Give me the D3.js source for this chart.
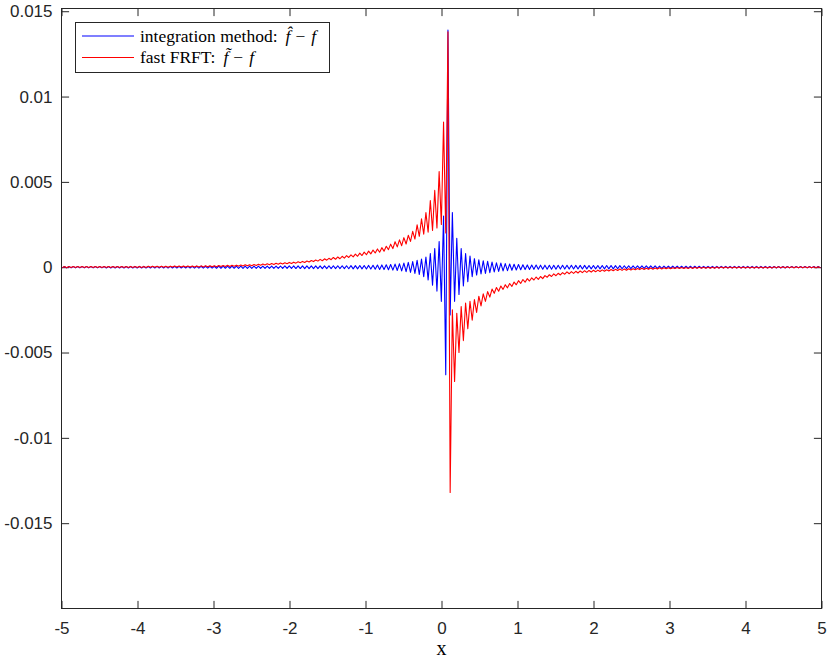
<!DOCTYPE html>
<html>
<head>
<meta charset="utf-8">
<script src="https://cdn.jsdelivr.net/npm/d3@7"></script>
<style>
  body { margin: 0; background: #fff; }
  svg { display: block; }
  .tick text { font-family: "Liberation Sans", Arial, sans-serif; font-size: 17px; fill: #262626; }
  .tick line { stroke: #262626; }
  .serif { font-family: "Liberation Serif", "Times New Roman", serif; fill: #000; }
</style>
</head>
<body>
<div id="chart"></div>
<script>
//------------------------------DATA------------------------------//
// extrema of the two error curves, one value per half period of the ripple,
// read off the picture. units of 1e-4. sample k sits at x = xStart + k * xStep
const xStart = -4.99;
const xStep = 0.029;
const valueUnit = 1e-4;

const integrationErr = [
  -0.4,0.4,-0.4,0.4,-0.4,0.4,-0.4,0.4,-0.4,0.4,
  -0.4,0.4,-0.4,0.4,-0.4,0.4,-0.4,0.4,-0.4,0.4,
  -0.42,0.42,-0.42,0.42,-0.42,0.42,-0.42,0.42,-0.42,0.42,
  -0.45,0.45,-0.45,0.45,-0.45,0.45,-0.45,0.45,-0.45,0.45,
  -0.47,0.47,-0.47,0.47,-0.47,0.47,-0.47,0.47,-0.47,0.47,
  -0.5,0.5,-0.5,0.5,-0.5,0.5,-0.5,0.5,-0.5,0.5,
  -0.55,0.55,-0.55,0.55,-0.55,0.55,-0.55,0.55,-0.55,0.55,
  -0.6,0.6,-0.6,0.6,-0.6,0.6,-0.6,0.6,-0.6,0.6,
  -0.65,0.65,-0.65,0.65,-0.65,0.65,-0.65,0.65,-0.65,0.65,
  -0.7,0.7,-0.7,0.7,-0.7,0.7,-0.7,0.7,-0.7,0.7,
  -0.75,0.75,-0.75,0.75,-0.75,0.78,-0.78,0.78,-0.78,0.8,
  -0.8,0.8,-0.8,0.8,-0.8,0.8,-0.8,0.8,-0.8,0.8,
  -0.85,0.85,-0.85,0.85,-0.85,0.85,-0.85,0.85,-0.85,0.85,
  -0.9,0.9,-0.95,0.95,-0.95,1.0,-1.0,1.0,-1.05,1.05,
  -1.1,1.15,-1.2,1.25,-1.3,1.35,-1.4,1.45,-1.5,1.6,
  -1.7,1.8,-1.9,2.0,-2.2,2.4,-2.6,2.8,-3.0,3.3,
  -3.6,4.0,-4.3,4.8,-5.5,6.0,-7.4,8.0,-10.5,11,
  -14,15,-20,30,-63,139,-28,32,-20,17,
  -16,11,-11,8,-8.5,6.5,-5.5,5,-4.6,4.3,
  -4.0,3.8,-3.6,3.4,-3.2,3.0,-2.8,2.6,-2.5,2.4,
  -2.2,2.1,-2.0,1.9,-1.8,1.7,-1.6,1.55,-1.5,1.45,
  -1.4,1.35,-1.3,1.3,-1.25,1.25,-1.2,1.2,-1.2,1.2,
  -1.15,1.15,-1.15,1.15,-1.15,1.1,-1.1,1.1,-1.1,1.1,
  -1.1,1.1,-1.05,1.05,-1.05,1.05,-1.05,1.05,-1.0,1.0,
  -1.0,1.0,-1.0,1.0,-1.0,1.0,-1.0,1.0,-1.0,1.0,
  -0.95,0.95,-0.9,0.9,-0.9,0.85,-0.85,0.85,-0.8,0.8,
  -0.75,0.75,-0.75,0.75,-0.75,0.75,-0.75,0.75,-0.75,0.75,
  -0.65,0.65,-0.65,0.65,-0.6,0.6,-0.6,0.6,-0.6,0.6,
  -0.55,0.55,-0.55,0.55,-0.55,0.55,-0.55,0.55,-0.55,0.55,
  -0.5,0.5,-0.5,0.5,-0.5,0.5,-0.5,0.5,-0.5,0.5,
  -0.5,0.5,-0.5,0.47,-0.47,0.47,-0.47,0.47,-0.47,0.45,
  -0.45,0.45,-0.45,0.45,-0.45,0.45,-0.45,0.45,-0.45,0.45,
  -0.42,0.42,-0.42,0.42,-0.42,0.42,-0.42,0.42,-0.42,0.42,
  -0.4,0.4,-0.4,0.4,-0.4,0.4,-0.4,0.4,-0.4,0.4,
  -0.4,0.4,-0.4,0.4,-0.4
];

const frftErr = [
  -0.25,0.35,-0.25,0.35,-0.24,0.36,-0.24,0.36,-0.23,0.37,
  -0.23,0.37,-0.22,0.38,-0.22,0.38,-0.21,0.39,-0.21,0.39,
  -0.2,0.4,-0.2,0.4,-0.19,0.41,-0.19,0.41,-0.18,0.42,
  -0.18,0.42,-0.17,0.43,-0.15,0.46,-0.14,0.47,-0.12,0.49,
  -0.08,0.53,-0.06,0.55,-0.05,0.57,-0.03,0.59,-0.01,0.61,
  0.05,0.66,0.07,0.68,0.09,0.7,0.11,0.72,0.13,0.74,
  0.13,0.75,0.16,0.78,0.19,0.81,0.22,0.85,0.26,0.89,
  0.32,0.95,0.38,1.02,0.45,1.1,0.48,1.13,0.55,1.2,
  0.63,1.29,0.72,1.38,0.81,1.47,0.9,1.57,1.03,1.7,
  1.14,1.83,1.29,1.98,1.43,2.13,1.58,2.28,1.72,2.44,
  1.87,2.6,2.04,2.8,2.2,2.95,2.38,3.17,2.6,3.4,
  2.8,3.63,3.05,3.9,3.3,4.18,3.56,4.6,3.8,4.9,
  4.1,5.2,4.4,5.7,4.65,6.0,4.95,6.4,5.3,6.75,
  5.7,7.2,6.05,7.7,6.4,8.25,6.85,8.85,7.3,9.4,
  7.8,10.05,8.3,10.7,8.8,11.45,9.4,12.25,10.3,13.5,
  10.9,14.9,11.9,16.0,12.6,17.3,13.6,18.7,15.1,21.0,
  16.5,24.8,18.1,28.3,19.4,32,20.5,39,21.5,45,
  23,56,25,85,20,138,-132,-25,-67,-27,
  -50,-23,-43,-21,-36,-20,-31,-19,-26.5,-17,
  -22.7,-15.6,-20,-14.3,-17.5,-12.8,-15.3,-11.9,-14.1,-11.0,
  -13.0,-10.25,-12.1,-9.55,-11.25,-8.7,-10.3,-7.9,-9.5,-7.2,
  -8.8,-6.7,-8.1,-6.2,-7.5,-5.75,-7.15,-5.45,-6.7,-4.9,
  -5.9,-4.4,-5.45,-3.95,-5.0,-3.55,-4.55,-3.15,-4.1,-2.7,
  -3.85,-2.6,-3.6,-2.4,-3.4,-2.2,-3.2,-2.05,-3.0,-1.9,
  -2.85,-1.8,-2.7,-1.7,-2.55,-1.55,-2.4,-1.5,-2.2,-1.35,
  -2.1,-1.25,-1.95,-1.1,-1.85,-1.0,-1.75,-0.9,-1.6,-0.85,
  -1.5,-0.75,-1.4,-0.65,-1.3,-0.6,-1.25,-0.5,-1.15,-0.45,
  -1.1,-0.38,-1.0,-0.35,-0.92,-0.3,-0.87,-0.25,-0.82,-0.2,
  -0.78,-0.16,-0.75,-0.13,-0.72,-0.1,-0.69,-0.07,-0.66,-0.05,
  -0.63,-0.02,-0.61,0.0,-0.58,0.03,-0.56,0.05,-0.54,0.07,
  -0.52,0.09,-0.5,0.11,-0.48,0.13,-0.47,0.14,-0.46,0.15,
  -0.45,0.15,-0.44,0.16,-0.44,0.17,-0.43,0.17,-0.42,0.18,
  -0.41,0.19,-0.4,0.2,-0.39,0.21,-0.38,0.22,-0.38,0.22,
  -0.37,0.23,-0.37,0.23,-0.36,0.24,-0.36,0.24,-0.35,0.25,
  -0.35,0.25,-0.35,0.25,-0.35
];

const xTicks = [-5, -4, -3, -2, -1, 0, 1, 2, 3, 4, 5];
const xTickLabels = ["-5", "-4", "-3", "-2", "-1", "0", "1", "2", "3", "4", "5"];
const yTicks = [-0.015, -0.01, -0.005, 0, 0.005, 0.01, 0.015];
const yTickLabels = ["-0.015", "-0.01", "-0.005", "0", "0.005", "0.01", "0.015"];
const xDomain = [-5, 5];
const yDomain = [-0.02, 0.01516];
const seriesNames = ["integration method:", "fast FRFT:"];
const seriesColors = ["#0000ff", "#ff0000"];

//------------------------------SVG-------------------------------//
const width = 830;
const height = 662;
const plot = { left: 61.5, right: 821.5, top: 8.5, bottom: 608.5 };
const tickLen = 7.6;

const svg = d3.select("#chart").append("svg")
    .attr("width", width)
    .attr("height", height);

const x = d3.scaleLinear().domain(xDomain).range([plot.left, plot.right]);
const y = d3.scaleLinear().domain(yDomain).range([plot.bottom, plot.top]);

svg.append("clipPath").attr("id", "plot-clip")
  .append("rect")
    .attr("x", plot.left).attr("y", plot.top)
    .attr("width", plot.right - plot.left).attr("height", plot.bottom - plot.top);

//------------------------------AXES------------------------------//
svg.append("g")
    .attr("transform", `translate(0,${plot.bottom})`)
    .call(d3.axisBottom(x).tickValues(xTicks).tickFormat((d, i) => xTickLabels[i])
        .tickSizeInner(-tickLen).tickSizeOuter(0).tickPadding(13.5))
    .call(g => g.select(".domain").remove());

svg.append("g")
    .attr("transform", `translate(0,${plot.top})`)
    .call(d3.axisTop(x).tickValues(xTicks).tickFormat("")
        .tickSizeInner(-tickLen).tickSizeOuter(0))
    .call(g => g.select(".domain").remove());

svg.append("g")
    .attr("transform", `translate(${plot.left},0)`)
    .call(d3.axisLeft(y).tickValues(yTicks).tickFormat((d, i) => yTickLabels[i])
        .tickSizeInner(-tickLen).tickSizeOuter(0).tickPadding(9))
    .call(g => g.select(".domain").remove());

svg.append("g")
    .attr("transform", `translate(${plot.right},0)`)
    .call(d3.axisRight(y).tickValues(yTicks).tickFormat("")
        .tickSizeInner(-tickLen).tickSizeOuter(0))
    .call(g => g.select(".domain").remove());

svg.append("rect")
    .attr("x", plot.left).attr("y", plot.top)
    .attr("width", plot.right - plot.left).attr("height", plot.bottom - plot.top)
    .attr("fill", "none")
    .attr("stroke", "#262626")
    .attr("stroke-width", 1);

svg.append("text")
    .attr("class", "serif")
    .attr("x", x(0))
    .attr("y", 655)
    .attr("text-anchor", "middle")
    .style("font-size", "20px")
    .text("x");

//------------------------------LINES-----------------------------//
const line = d3.line()
    .x((d, i) => x(xStart + i * xStep))
    .y(d => y(d * valueUnit));

svg.append("g")
    .attr("clip-path", "url(#plot-clip)")
  .selectAll("path")
  .data([integrationErr, frftErr])
  .join("path")
    .attr("d", line)
    .attr("fill", "none")
    .attr("stroke", (d, i) => seriesColors[i])
    .attr("stroke-width", 1.1)
    .attr("stroke-linejoin", "round");

//-----------------------------LEGEND-----------------------------//
const legend = svg.append("g").attr("transform", "translate(75.5,22.5)");

legend.append("rect")
    .attr("width", 254).attr("height", 50)
    .attr("fill", "#fff")
    .attr("stroke", "#262626")
    .attr("stroke-width", 1);

const marks = ["\u0302", "\u0303"];
seriesNames.forEach((name, i) => {
  const yy = 13.5 + i * 21.5;
  legend.append("line")
      .attr("x1", 6.5).attr("x2", 58.5)
      .attr("y1", yy).attr("y2", yy)
      .attr("stroke", seriesColors[i])
      .attr("stroke-width", 1.1);
  const t = legend.append("text")
      .attr("class", "serif")
      .attr("x", 64.5)
      .attr("y", yy + 5.5)
      .style("font-size", "17.5px");
  t.append("tspan").text(name);
  t.append("tspan").attr("dx", 8).style("font-style", "italic").text("f" + marks[i]);
  t.append("tspan").attr("dx", 5).text("\u2212");
  t.append("tspan").attr("dx", 6).style("font-style", "italic").text("f");
});
</script>
</body>
</html>
